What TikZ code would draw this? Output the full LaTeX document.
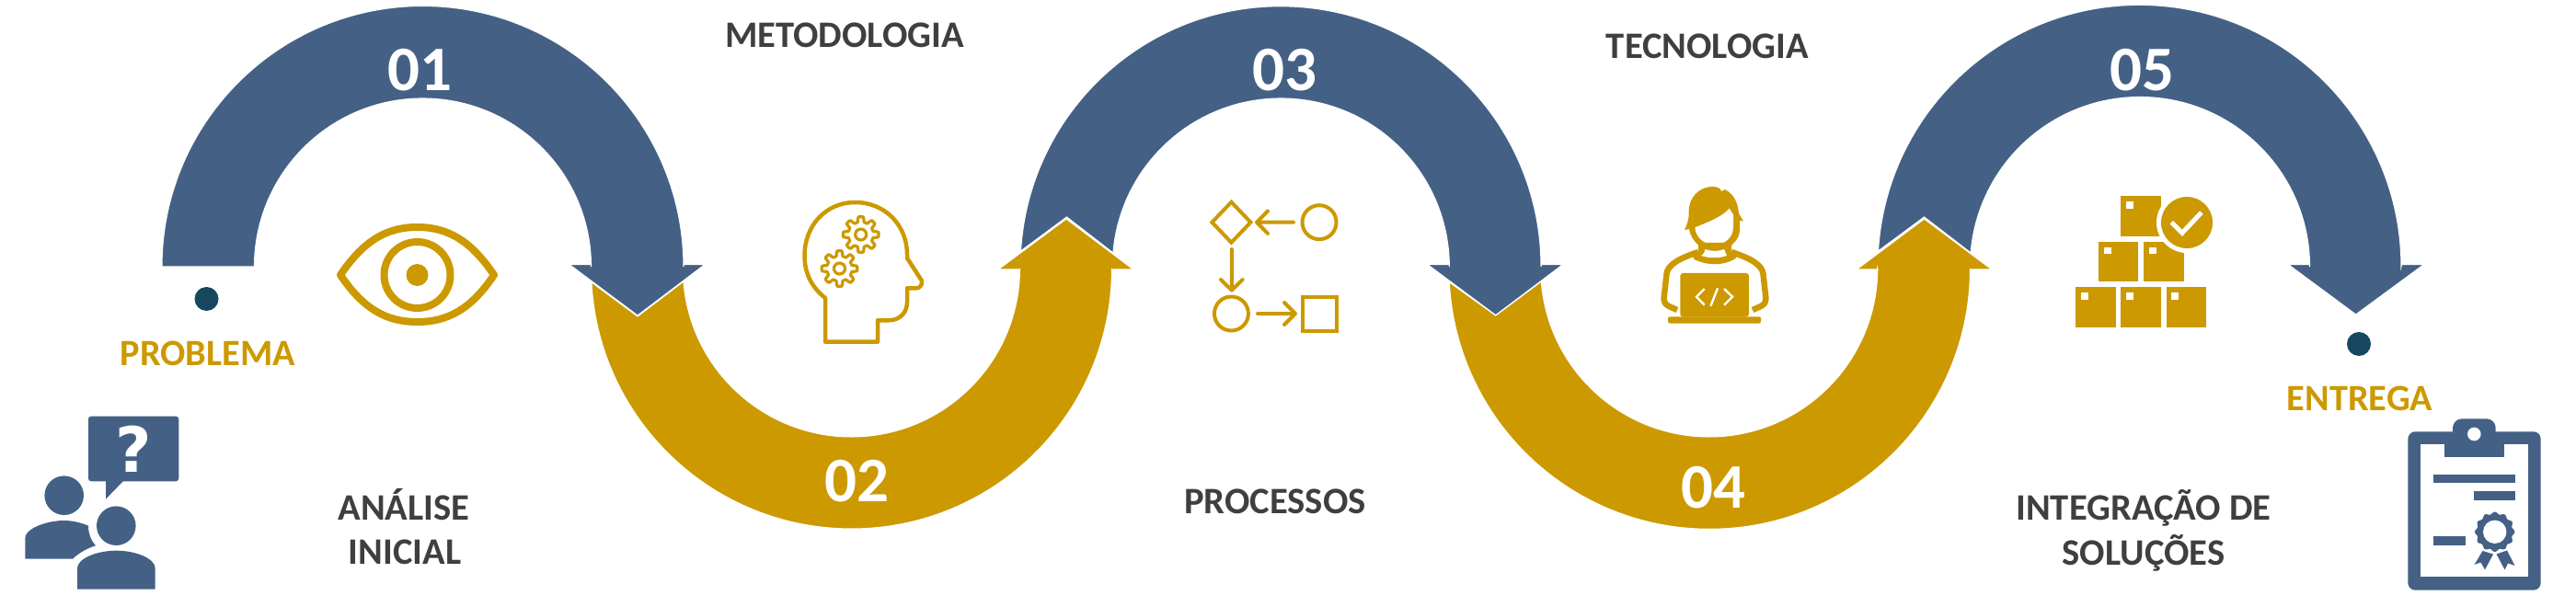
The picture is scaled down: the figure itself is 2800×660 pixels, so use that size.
\documentclass[tikz,border=0pt]{standalone}
\usepackage{fontspec}
\setmainfont{Carlito}
\newfontfamily\dejafont{DejaVu Sans}
\definecolor{flowblue}{HTML}{446185}
\definecolor{flowgold}{HTML}{CC9900}
\definecolor{dotblue}{HTML}{17475F}
\definecolor{labeldark}{HTML}{3F3F3F}
\tikzset{
  bluearc/.style={fill=flowblue,draw=white,line width=1.1pt,line join=miter},
  goldarc/.style={fill=flowgold,draw=white,line width=1.1pt,line join=miter},
  numlabel/.style={text=white,inner sep=0pt,anchor=base,font=\fontsize{69}{69}\selectfont\bfseries},
  darklabel/.style={text=labeldark,inner sep=0pt,anchor=base,font=\fontsize{40.6}{40.6}\selectfont\bfseries},
  goldlabel/.style={text=flowgold,inner sep=0pt,anchor=base,font=\fontsize{40.4}{40.4}\selectfont\bfseries},
  goldline/.style={draw=flowgold,fill=none,line width=4.5pt},
  goldthin/.style={draw=flowgold,fill=none,line width=4pt,line cap=round,line join=round},
}
\newcommand\geartool[2]{%
  \draw[draw=flowgold,line width=3.2pt,line join=round] plot[samples=145,domain=0:360,variable=\a]
    ({#1+(16.5+2.8*min(1,max(-1,2.5*cos(8*\a))))*cos(\a)},{#2+(16.5+2.8*min(1,max(-1,2.5*cos(8*\a))))*sin(\a)}) -- cycle;
  \draw[draw=flowgold,line width=3.2pt] (#1,#2) circle[radius=6pt];
}
\begin{document}
\begin{tikzpicture}[x=1pt,y=-1pt]
\useasboundingbox (0,0) rectangle (2800,660);

% ---- ribbon, drawn from the last segment back to the first
\path[bluearc] (2041.5,273) arc[start angle=176.6,end angle=0,radius=284.5pt]
  -- (2610.5,287.7) -- (2634.5,287.7) -- (2560.7,342) -- (2487.3,287.7) -- (2510.5,287.7)
  -- (2510.5,290) arc[start angle=0,end angle=175.3,radius=184.5pt] -- (2091.5,236) -- cycle;
\path[goldarc] (1675.3,306) arc[start angle=184.4,end angle=360,radius=183pt]
  -- (2041,293) -- (2018,293) -- (2091.5,238) -- (2165,293) -- (2141.5,293)
  -- (2141.5,292) arc[start angle=0,end angle=-177,radius=283.3pt] -- (1625.7,343) -- cycle;
\path[bluearc] (1109.5,273) arc[start angle=176.6,end angle=0,radius=283pt]
  -- (1675.3,287.7) -- (1698.7,287.7) -- (1625.7,342.7) -- (1551.7,287.7) -- (1575.3,287.7)
  -- (1575.3,290) arc[start angle=0,end angle=175.3,radius=183pt] -- (1159.5,236) -- cycle;
\path[goldarc] (743,306) arc[start angle=184.4,end angle=360,radius=183pt]
  -- (1108.5,293) -- (1085,293) -- (1159,238) -- (1232,293) -- (1208.5,293)
  -- (1208.5,292) arc[start angle=0,end angle=-177,radius=283pt] -- (693,344) -- cycle;
\path[bluearc] (176,290) arc[start angle=180,end angle=0,radius=283.5pt]
  -- (743,287.7) -- (766,287.7) -- (693,343) -- (619,287.7) -- (642.5,287.7)
  -- (642.5,290) arc[start angle=0,end angle=180,radius=183pt] -- cycle;

% ---- numbers
\node[numlabel] (n1) at (456,99) {01};
\node[numlabel] (n2) at (931,545) {02};
\node[numlabel] (n3) at (1396,99) {03};
\node[numlabel] (n4) at (1862,552) {04};
\node[numlabel] (n5) at (2328,99) {05};

% ---- labels
\node[darklabel] (metodologia) at (918,51.5) {METODOLOGIA};
\node[darklabel] (tecnologia) at (1856,63.5) {TECNOLOGIA};
\node[darklabel] (analise) at (439,565.5) {ANÁLISE};
\node[darklabel] (inicial) at (440,613.5) {INICIAL};
\node[darklabel] (processos) at (1386,558.5) {PROCESSOS};
\node[darklabel] (integracao) at (2330,565) {INTEGRAÇÃO DE};
\node[darklabel] (solucoes) at (2330,614) {SOLUÇÕES};
\node[goldlabel] (problema) at (226,397) {PROBLEMA};
\node[goldlabel] (entrega) at (2565,446) {ENTREGA};

% ---- dots
\fill[dotblue] (224.5,325) circle[radius=13pt];
\fill[dotblue] (2564,374) circle[radius=13pt];

% ---- eye
\draw[draw=flowgold,line width=8pt,line join=round] (370,299)
  .. controls (395,262) and (420,247) .. (453.5,247)
  .. controls (487,247) and (512,262) .. (537,299)
  .. controls (512,336) and (487,350) .. (453.5,350)
  .. controls (420,350) and (395,336) .. (370,299) -- cycle;
\draw[draw=flowgold,line width=8pt] (453.5,299) circle[radius=36pt];
\fill[flowgold] (453.5,299) circle[radius=12pt];

% ---- head with gears
\draw[goldline,line join=round] (903,371.7) -- (954,371.7) -- (954,348.3) -- (966,348.3)
  .. controls (978,348.3) and (986,340) .. (986,328.3) -- (986,313.3) -- (996.4,313.3)
  .. controls (1000,313.3) and (1003,309) .. (1001.8,305) -- (986,280.7) -- (986,276.7)
  .. controls (986,245) and (962,220) .. (929.5,220)
  .. controls (898,220) and (874.5,245) .. (874.5,278)
  .. controls (874.5,298) and (883,313) .. (897,324) -- (897,371.7) -- cycle;
\geartool{935.7}{255}
\geartool{912.5}{292}

% ---- process icon
\draw[goldthin,line join=miter] (1338.4,219.7) -- (1359.4,241.7) -- (1338.4,263.7) -- (1317.4,241.7) -- cycle;
\draw[goldthin] (1434,241.7) circle[radius=18.5pt];
\draw[goldthin] (1338.4,341) circle[radius=18.5pt];
\draw[goldthin,line join=miter,line cap=butt] (1415.5,323) rectangle (1453,359.5);
\draw[goldthin] (1406,241.7) -- (1366,241.7) (1378,229.5) -- (1366,241.7) -- (1378,253.9);
\draw[goldthin] (1338.8,271) -- (1338.8,315.7) (1327,304) -- (1338.8,315.7) (1350.6,304) -- (1338.8,315.7);
\draw[goldthin] (1367,341) -- (1408,341) (1396,329) -- (1408,341) -- (1396,353);

% ---- person with laptop
\fill[flowgold] (1831,250) .. controls (1835,241) and (1836,236) .. (1835.7,231)
  .. controls (1835,215) and (1847,203) .. (1861,203)
  .. controls (1866,203) and (1870,204) .. (1871,208) -- (1875,206)
  .. controls (1886,212) and (1889,222) .. (1890,232) -- (1895,240.7) -- (1891,239.5) -- (1891,250)
  .. controls (1891,262) and (1878,273) .. (1864,273)
  .. controls (1850,273) and (1838,262) .. (1836,249) -- cycle;
\fill[white] (1842.4,247.3) .. controls (1858,241) and (1873,235) .. (1879.5,226.7) -- (1884,233.3) -- (1884,246.7)
  .. controls (1884,258) and (1875,266) .. (1863.8,266)
  .. controls (1852,266) and (1843,258) .. (1842.4,247.3) -- cycle;
\fill[flowgold] (1846,264) -- (1882,264) -- (1882,273) -- (1888,279) -- (1885,282)
  .. controls (1872,289) and (1856,289) .. (1841.5,282) -- (1840,279) -- (1846,273) -- cycle;
\fill[white] (1853.5,271) .. controls (1860,273.5) and (1868,273.5) .. (1874,271) -- (1877,278)
  .. controls (1868,281) and (1858,281) .. (1849,278) .. controls (1852,276) and (1853,274) .. (1853.5,271) -- cycle;
\draw[draw=flowgold,line width=6.5pt,line join=round] (1823,337) -- (1814,333)
  .. controls (1810,331) and (1808.5,328) .. (1808.5,325) -- (1811.5,298)
  .. controls (1812.5,288) and (1825,281) .. (1846,274);
\draw[draw=flowgold,line width=6.5pt,line join=round] (1905,337) -- (1914,333)
  .. controls (1918,331) and (1919.5,328) .. (1919.5,325) -- (1916.5,298)
  .. controls (1915.5,288) and (1903,281) .. (1882,274);
\fill[flowgold,rounded corners=3pt] (1826.3,344.5) -- (1826.3,297) -- (1900.9,297) -- (1900.9,344.5) -- cycle;
\fill[flowgold,rounded corners=2pt] (1813,344.3) -- (1914,344.3) -- (1914,351.5) -- (1813,351.5) -- cycle;
\draw[draw=white,line width=2.4pt] (1852.7,314) -- (1844,322.7) -- (1852.7,331.7)
  (1867,313.3) -- (1859.4,332.7) (1874,314) -- (1883,322.7) -- (1874,331.7);

% ---- boxes with check
\foreach \bx/\by in {2256.3/312,2305.4/312,2354.5/312,2280.8/262.7,2330/262.7,2305.4/213.5}{
  \fill[flowgold] (\bx,\by) rectangle +(43.6,43.6);
  \fill[white] (\bx+5.8,\by+6) rectangle +(8,7.7);
}
\fill[white] (2377,242) circle[radius=33pt];
\fill[flowgold] (2377,242) circle[radius=28pt];
\draw[draw=white,line width=5pt] (2360.3,241.7) -- (2371.9,253.3) -- (2392.9,231);

% ---- people with question
\fill[flowblue,rounded corners=3pt] (96,452.7) rectangle (194.3,523.3);
\fill[flowblue] (115,523) -- (115,542.7) -- (134,523) -- cycle;
\node[text=white,inner sep=0pt,font=\dejafont\bfseries\fontsize{68}{68}\selectfont] (question) at (145,488) {?};
\fill[flowblue] (69.7,538.7) circle[radius=21.3pt];
\fill[flowblue] (126.3,571.7) circle[radius=21.3pt];
\fill[flowblue] (27.3,607.7) -- (27.3,585)
  .. controls (27.3,575) and (50,566) .. (69.7,566)
  .. controls (80,566) and (90,569) .. (96,571.7)
  .. controls (96,580) and (99,588) .. (104,593.3)
  .. controls (95,596) and (86,601) .. (79,607.7) -- cycle;
\fill[flowblue] (84,640.7) -- (84,618)
  .. controls (84,607) and (106,598.7) .. (126.3,598.7)
  .. controls (147,598.7) and (168.7,607) .. (168.7,618) -- (168.7,640.7) -- cycle;

% ---- clipboard
\fill[flowblue,rounded corners=8pt] (2617.3,469.3) rectangle (2761.7,641.7);
\fill[white] (2631.3,483.3) rectangle (2747.7,627.3);
\fill[flowblue,rounded corners=10pt] (2666,455.3) rectangle (2712.7,490);
\fill[flowblue] (2656.7,480) rectangle (2722,497.3);
\fill[white] (2689.3,472) circle[radius=7.3pt];
\fill[flowblue] (2645,515.7) rectangle (2733.7,525);
\fill[flowblue] (2689.3,534.3) rectangle (2733.7,543.7);
\fill[flowblue] (2645,583.3) rectangle (2680,592.7);
\fill[flowblue] plot[samples=145,domain=0:360,variable=\a]
  ({2711.7+(20.5+1.2*cos(12*\a))*cos(\a)},{578.3+(20.5+1.2*cos(12*\a))*sin(\a)}) -- cycle;
\fill[white] (2711.7,578.3) circle[radius=12.7pt];
\fill[flowblue] (2698.5,599) -- (2710,602.5) -- (2701,619.5) -- (2696.5,611.5) -- (2689.5,614) -- cycle;
\fill[flowblue] (2725,598.5) -- (2713.5,602.5) -- (2722.5,619.5) -- (2726,612.5) -- (2733.5,615) -- cycle;
\end{tikzpicture}
\end{document}
